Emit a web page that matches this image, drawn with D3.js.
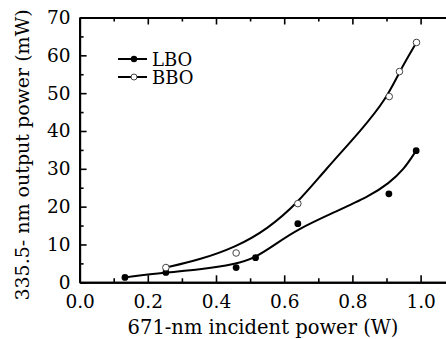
<!DOCTYPE html>
<html><head><meta charset="utf-8">
<script src="https://cdn.jsdelivr.net/npm/d3@7"></script>
<style>body{margin:0;background:#fff;} svg{display:block;}</style>
</head><body>
<svg id="c" width="446" height="339"></svg>
<script>
// Data
const xTicks = [0.0, 0.2, 0.4, 0.6, 0.8, 1.0];
const yTicks = [0, 10, 20, 30, 40, 50, 60, 70];
const lboX = [0.133, 0.253, 0.459, 0.516, 0.640, 0.907, 0.987];
const lboY = [1.3, 2.6, 3.9, 6.5, 15.5, 23.4, 34.8];
const bboX = [0.253, 0.459, 0.640, 0.908, 0.938, 0.988];
const bboY = [3.9, 7.75, 20.8, 49.1, 55.7, 63.4];
// fitted curves
const lboFitX = [0.133, 0.253, 0.35, 0.459, 0.516, 0.578, 0.64, 0.734, 0.852, 0.907, 0.95, 0.987];
const lboFitY = [1.3, 2.6, 3.3, 4.8, 6.5, 10.3, 14.0, 18.0, 22.8, 26.2, 29.7, 34.8];
const bboFitX = [0.253, 0.35, 0.46, 0.55, 0.64, 0.72, 0.827, 0.90, 0.938, 0.988];
const bboFitY = [3.9, 5.9, 9.4, 14.0, 21.0, 29.7, 40.3, 48.6, 55.7, 63.4];
const seriesNames = ["LBO", "BBO"];

const svg = d3.select("#c");
const font = "'DejaVu Serif', serif";
const L = 79.6, T = 17.5, B = 282.3;
const x = d3.scaleLinear().domain([0, 1.1]).range([L, L + 1.1 * 341]);
const y = d3.scaleLinear().domain([0, 70]).range([B, T]);

const minorX = d3.range(0, 1.11, 0.1).map(v => +v.toFixed(2)).filter(v => !xTicks.some(t => Math.abs(t - v) < 1e-6));
const minorY = d3.range(5, 70, 10);

function style(g){
  g.selectAll(".domain").attr("stroke","#000").attr("stroke-width",2);
  g.selectAll(".tick line").attr("stroke","#000").attr("stroke-width",1.6);
  g.selectAll("text").attr("font-family",font).attr("font-size",18.5).attr("fill","#000");
}

// bottom axis
svg.append("g").attr("transform",`translate(0,${B})`)
  .call(d3.axisBottom(x).tickValues(xTicks).tickFormat(d3.format(".1f")).tickSizeInner(-7).tickSizeOuter(0).tickPadding(13))
  .call(style);
svg.append("g").attr("transform",`translate(0,${B})`)
  .call(d3.axisBottom(x).tickValues(minorX).tickFormat("").tickSizeInner(-4).tickSizeOuter(0))
  .call(style);
// top axis
svg.append("g").attr("transform",`translate(0,${T})`)
  .call(d3.axisTop(x).tickValues(xTicks).tickFormat("").tickSizeInner(-7).tickSizeOuter(0))
  .call(style);
svg.append("g").attr("transform",`translate(0,${T})`)
  .call(d3.axisTop(x).tickValues(minorX).tickFormat("").tickSizeInner(-4).tickSizeOuter(0))
  .call(style);
// left axis
svg.append("g").attr("transform",`translate(${L},0)`)
  .call(d3.axisLeft(y).tickValues(yTicks).tickSizeInner(-7).tickSizeOuter(0).tickPadding(9))
  .call(style);
svg.append("g").attr("transform",`translate(${L},0)`)
  .call(d3.axisLeft(y).tickValues(minorY).tickFormat("").tickSizeInner(-4).tickSizeOuter(0))
  .call(style);

// axis titles
svg.append("text").attr("x", 263).attr("y", 334).attr("text-anchor","middle")
  .attr("font-family",font).attr("font-size",19.5).text("671-nm incident power (W)");
svg.append("text").attr("transform","translate(29,155) rotate(-90)").attr("text-anchor","middle")
  .attr("font-family",font).attr("font-size",19).text("335.5- nm output power (mW)");

// fitted curves
const line = d3.line().x(d => x(d[0])).y(d => y(d[1])).curve(d3.curveBasis);
svg.append("path").datum(lboFitX.map((v,i)=>[v,lboFitY[i]])).attr("d",line)
  .attr("fill","none").attr("stroke","#000").attr("stroke-width",2);
svg.append("path").datum(bboFitX.map((v,i)=>[v,bboFitY[i]])).attr("d",line)
  .attr("fill","none").attr("stroke","#000").attr("stroke-width",2);

// points
svg.append("g").selectAll("circle").data(lboX.map((v,i)=>[v,lboY[i]])).join("circle")
  .attr("cx",d=>x(d[0])).attr("cy",d=>y(d[1])).attr("r",3.4).attr("fill","#000");
svg.append("g").selectAll("circle").data(bboX.map((v,i)=>[v,bboY[i]])).join("circle")
  .attr("cx",d=>x(d[0])).attr("cy",d=>y(d[1])).attr("r",3.3).attr("fill","#fff").attr("stroke","#444").attr("stroke-width",1);

// legend
const lg = svg.append("g");
seriesNames.forEach((name,i)=>{
  const yy = 59 + i*18;
  lg.append("line").attr("x1",118).attr("x2",147).attr("y1",yy).attr("y2",yy).attr("stroke","#000").attr("stroke-width",2);
  const c = lg.append("circle").attr("cx",134).attr("cy",yy).attr("r", i===0?3.2:3);
  if(i===0) c.attr("fill","#000"); else c.attr("fill","#fff").attr("stroke","#444").attr("stroke-width",1);
  lg.append("text").attr("x",152).attr("y",yy+6.6).attr("font-family",font).attr("font-size",18).text(name);
});
</script>
</body></html>
